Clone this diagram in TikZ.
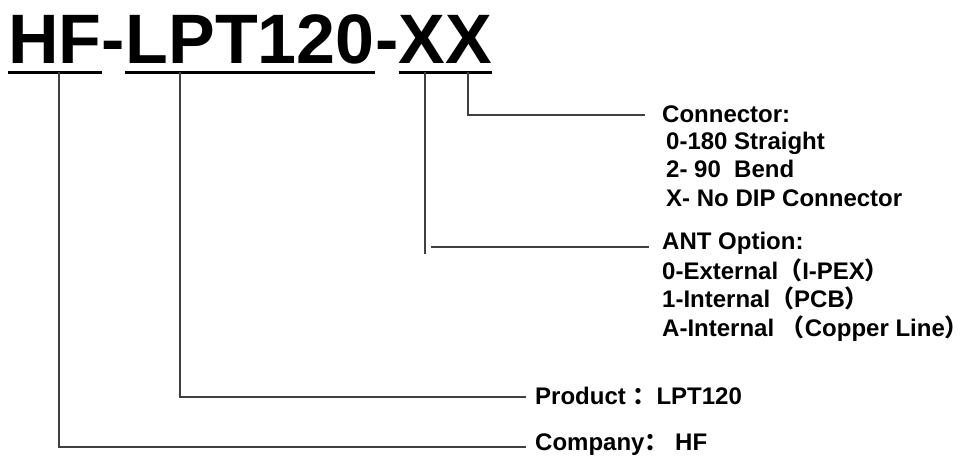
\documentclass[tikz,border=0pt]{standalone}
\usepackage{fontspec}
\setmainfont{Liberation Sans}
\newfontfamily\cjkfont{Noto Sans CJK SC}
\usetikzlibrary{positioning, calc}
\newcommand{\parab}{{\cjkfont （}}
\newcommand{\parfe}{{\cjkfont\makebox[0.5em][l]{）}}}
\newcommand{\doispt}{{\cjkfont ：}}

\begin{document}
\begin{tikzpicture}[x=1pt, y=-1pt,
  titulo/.style={inner sep=0pt, anchor=base west, font=\bfseries\fontsize{70}{84}\selectfont},
  rotulo/.style={inner sep=0pt, anchor=base west, align=left, font=\bfseries\fontsize{24}{28.3}\selectfont},
  sublinha/.style={line width=3pt},
  guia/.style={line width=1.2pt, color=guiacor}]
% --- CODIGO DO PRODUTO E LEGENDAS ---
\definecolor{guiacor}{HTML}{404040}
\useasboundingbox (0,0) rectangle (962,458);

% LAYER 1: Titulo
\node[titulo] (hf) at (8,63) {HF};
\node[titulo] (hifen1) at (hf.base east) {-};
\node[titulo] (lpt) at (hifen1.base east) {LPT120};
\node[titulo] (hifen2) at (lpt.base east) {-};
\node[titulo] (xx) at (hifen2.base east) {XX};

% LAYER 2: Sublinhados
\draw[sublinha] ([yshift=-9pt]hf.base west) -- ([yshift=-9pt]hf.base east);
\draw[sublinha] ([yshift=-9pt]lpt.base west) -- ([yshift=-9pt]lpt.base east);
\draw[sublinha] ([yshift=-9pt]xx.base west) -- ([yshift=-9pt]xx.base east);

% LAYER 3: Legendas (titulo da legenda + opcoes)
\node[rotulo] (conector) at (662,122) {Connector:};
\node[rotulo] (conectorop) at (662,206) {\hspace*{4pt}0-180 Straight\\\hspace*{4pt}2- 90\ \ Bend\\\hspace*{4pt}X- No DIP Connector};
\node[rotulo] (antena) at (662,249) {ANT Option:};
\node[rotulo] (antenaop) at (662,336) {0-External\parab I-PEX\parfe\\1-Internal\parab PCB\parfe\\A-Internal \parab Copper Line\parfe};
\node[rotulo] (produto) at (535,404) {Product \doispt LPT120};
\node[rotulo] (empresa) at (535,450) {Company\doispt\ HF};

% LAYER 4: Linhas guia
\coordinate (tapHF) at (59,72);
\coordinate (tapLPT) at (180,72);
\coordinate (tapANT) at (425,72);
\coordinate (tapCON) at (468,72);
\coordinate (fimANT) at (425,254);
\coordinate (iniANT) at (431,247);
\draw[guia] (tapCON) |- ([xshift=-17pt, yshift=7pt]conector.base west);
\draw[guia] (tapANT) -- (fimANT);
\draw[guia] (iniANT) -- ([xshift=-13pt, yshift=2pt]antena.base west);
\draw[guia] (tapLPT) |- ([xshift=-9pt, yshift=7pt]produto.base west);
\draw[guia] (tapHF) |- ([xshift=-9pt, yshift=3pt]empresa.base west);
\end{tikzpicture}
\end{document}
